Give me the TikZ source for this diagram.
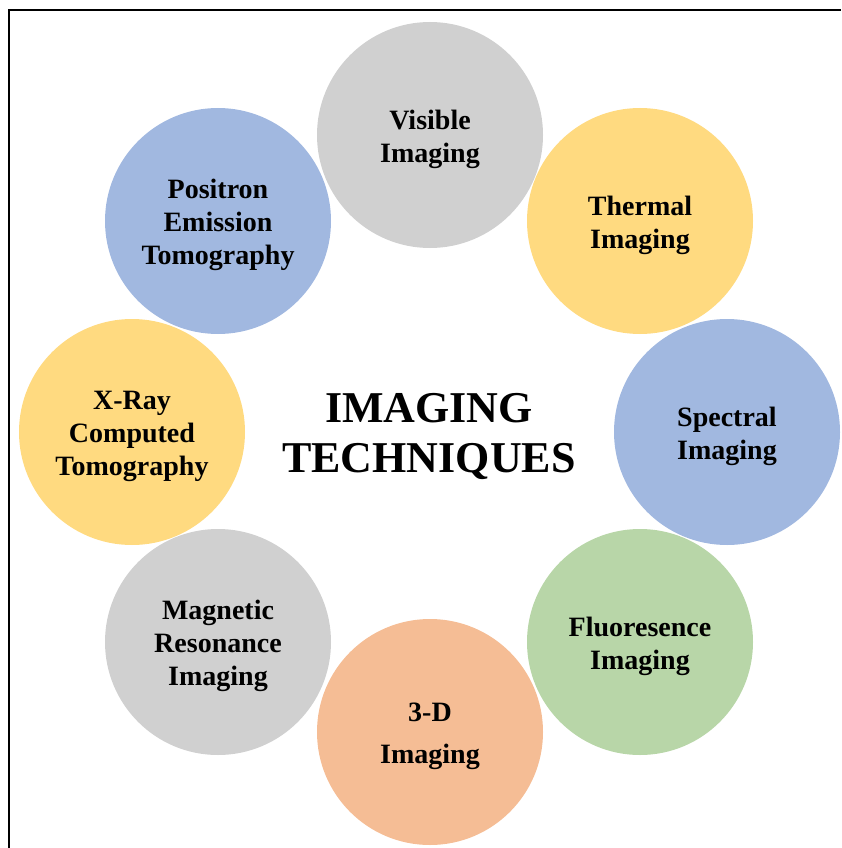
\documentclass[tikz,border=0pt]{standalone}
\usepackage{fontspec}
\setmainfont{Liberation Serif}
\definecolor{techgray}{HTML}{D0D0D0}
\definecolor{techyellow}{HTML}{FFDA80}
\definecolor{techblue}{HTML}{A1B8E0}
\definecolor{techgreen}{HTML}{B8D6A8}
\definecolor{techorange}{HTML}{F5BD95}
\begin{document}
\begin{tikzpicture}
    [x=1pt,y=-1pt,
     tech/.style={circle,minimum size=226pt,inner sep=0pt},
     techtext/.style={align=center,yshift=-4pt,
       font=\bfseries\fontsize{28}{33}\selectfont}]
    \useasboundingbox (0,0) rectangle (842,848);
    \draw[line width=1.4pt] (9,848) -- (9,10) -- (841,10);
    \node[align=center,font=\bfseries\fontsize{44}{50}\selectfont] (title) at (429,436)
      {IMAGING\\TECHNIQUES};
    \node[tech,fill=techgray,label={[techtext]center:{Visible\\Imaging}}] (vis) at (430,135) {};
    \node[tech,fill=techyellow,label={[techtext]center:{Thermal\\Imaging}}] (therm) at (640,221) {};
    \node[tech,fill=techblue,label={[techtext]center:{Spectral\\Imaging}}] (spec) at (727,432) {};
    \node[tech,fill=techgreen,label={[techtext]center:{Fluoresence\\Imaging}}] (fluo) at (640,642) {};
    \node[tech,fill=techorange,label={[techtext]center:{3-D\\[9pt]Imaging}}] (threed) at (430,732) {};
    \node[tech,fill=techgray,label={[techtext]center:{Magnetic\\Resonance\\Imaging}}] (mri) at (218,642) {};
    \node[tech,fill=techyellow,label={[techtext]center:{X-Ray\\Computed\\Tomography}}] (xray) at (132,432) {};
    \node[tech,fill=techblue,label={[techtext]center:{Positron\\Emission\\Tomography}}] (pet) at (218,221) {};
  \end{tikzpicture}
\end{document}
